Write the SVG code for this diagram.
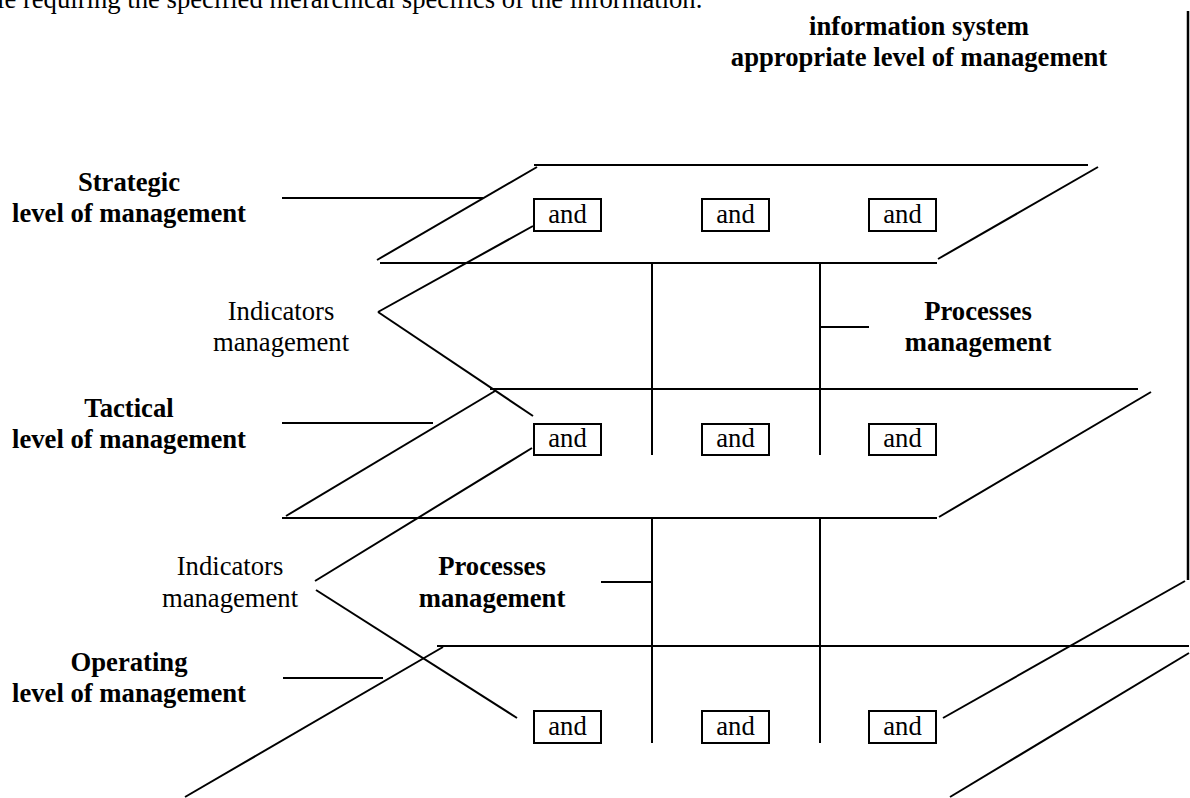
<svg xmlns="http://www.w3.org/2000/svg" width="1190" height="798" viewBox="0 0 1190 798">
<style>
text{font-family:"Liberation Serif","Times New Roman",serif;font-size:26.67px;fill:#000}
.b{font-weight:bold}
.m{text-anchor:middle}
line{stroke:#000;stroke-width:2;fill:none}
.box rect{fill:#fff;stroke:#000;stroke-width:2}
</style>
<rect width="1190" height="798" fill="#fff"/>
<text x="-3" y="8">le requiring the specified hierarchical specifics of the information.</text>
<g id="title"><text class="b m" x="919" y="35">information system</text><text class="b m" x="919" y="66">appropriate level of management</text></g>
<g id="label-strategic"><text class="b m" x="129" y="191">Strategic</text><text class="b m" x="129" y="222">level of management</text></g>
<g id="label-tactical"><text class="b m" x="129" y="417">Tactical</text><text class="b m" x="129" y="448">level of management</text></g>
<g id="label-operating"><text class="b m" x="129" y="671">Operating</text><text class="b m" x="129" y="702">level of management</text></g>
<g id="indicators-1"><text class="m" x="281" y="320">Indicators</text><text class="m" x="281" y="351">management</text></g>
<g id="indicators-2"><text class="m" x="230" y="575">Indicators</text><text class="m" x="230" y="607">management</text></g>
<g id="processes-1"><text class="b m" x="978" y="320">Processes</text><text class="b m" x="978" y="351">management</text></g>
<g id="processes-2"><text class="b m" x="492" y="575">Processes</text><text class="b m" x="492" y="607">management</text></g>
<g id="connectors">
<!-- strategic plane -->
<line x1="534" y1="165" x2="1088" y2="165"/>
<line x1="537" y1="167" x2="377" y2="260"/>
<line x1="380" y1="263" x2="937" y2="263"/>
<line x1="1098" y1="167" x2="938" y2="259"/>
<line x1="282" y1="198" x2="483" y2="198"/>
<!-- tactical plane -->
<line x1="490" y1="389" x2="1138" y2="389"/>
<line x1="495" y1="391" x2="286" y2="516"/>
<line x1="282" y1="518" x2="937" y2="518"/>
<line x1="1151" y1="392" x2="939" y2="517"/>
<line x1="282" y1="423" x2="433" y2="423"/>
<!-- operating plane -->
<line x1="437" y1="646" x2="1189" y2="646"/>
<line x1="443" y1="647" x2="185" y2="797"/>
<line x1="1189" y1="653" x2="950" y2="797"/>
<line x1="1185" y1="581" x2="943" y2="718"/>
<line x1="283" y1="678" x2="383" y2="678"/>
<!-- right frame -->
<line x1="1188" y1="11" x2="1188" y2="580" style="stroke-width:2.5"/>
<!-- verticals -->
<line x1="652" y1="263" x2="652" y2="455"/>
<line x1="820" y1="263" x2="820" y2="455"/>
<line x1="652" y1="518" x2="652" y2="743"/>
<line x1="820" y1="518" x2="820" y2="743"/>
<line x1="820" y1="327" x2="869" y2="327"/>
<line x1="601" y1="582" x2="652" y2="582"/>
<!-- indicator V lines -->
<line x1="533" y1="226" x2="378" y2="312"/>
<line x1="378" y1="312" x2="533" y2="416"/>
<line x1="532" y1="448" x2="315" y2="581"/>
<line x1="316" y1="590" x2="517" y2="718"/>
</g>
<g id="box-s1" class="box"><rect x="534" y="199" width="67" height="32"/><text class="m" x="567.5" y="223">and</text></g>
<g id="box-s2" class="box"><rect x="702" y="199" width="67" height="32"/><text class="m" x="735.5" y="223">and</text></g>
<g id="box-s3" class="box"><rect x="869" y="199" width="67" height="32"/><text class="m" x="902.5" y="223">and</text></g>
<g id="box-t1" class="box"><rect x="534" y="424" width="67" height="31"/><text class="m" x="567.5" y="447">and</text></g>
<g id="box-t2" class="box"><rect x="702" y="424" width="67" height="31"/><text class="m" x="735.5" y="447">and</text></g>
<g id="box-t3" class="box"><rect x="869" y="424" width="67" height="31"/><text class="m" x="902.5" y="447">and</text></g>
<g id="box-o1" class="box"><rect x="534" y="711" width="67" height="32"/><text class="m" x="567.5" y="735">and</text></g>
<g id="box-o2" class="box"><rect x="702" y="711" width="67" height="32"/><text class="m" x="735.5" y="735">and</text></g>
<g id="box-o3" class="box"><rect x="869" y="711" width="67" height="32"/><text class="m" x="902.5" y="735">and</text></g>
</svg>
